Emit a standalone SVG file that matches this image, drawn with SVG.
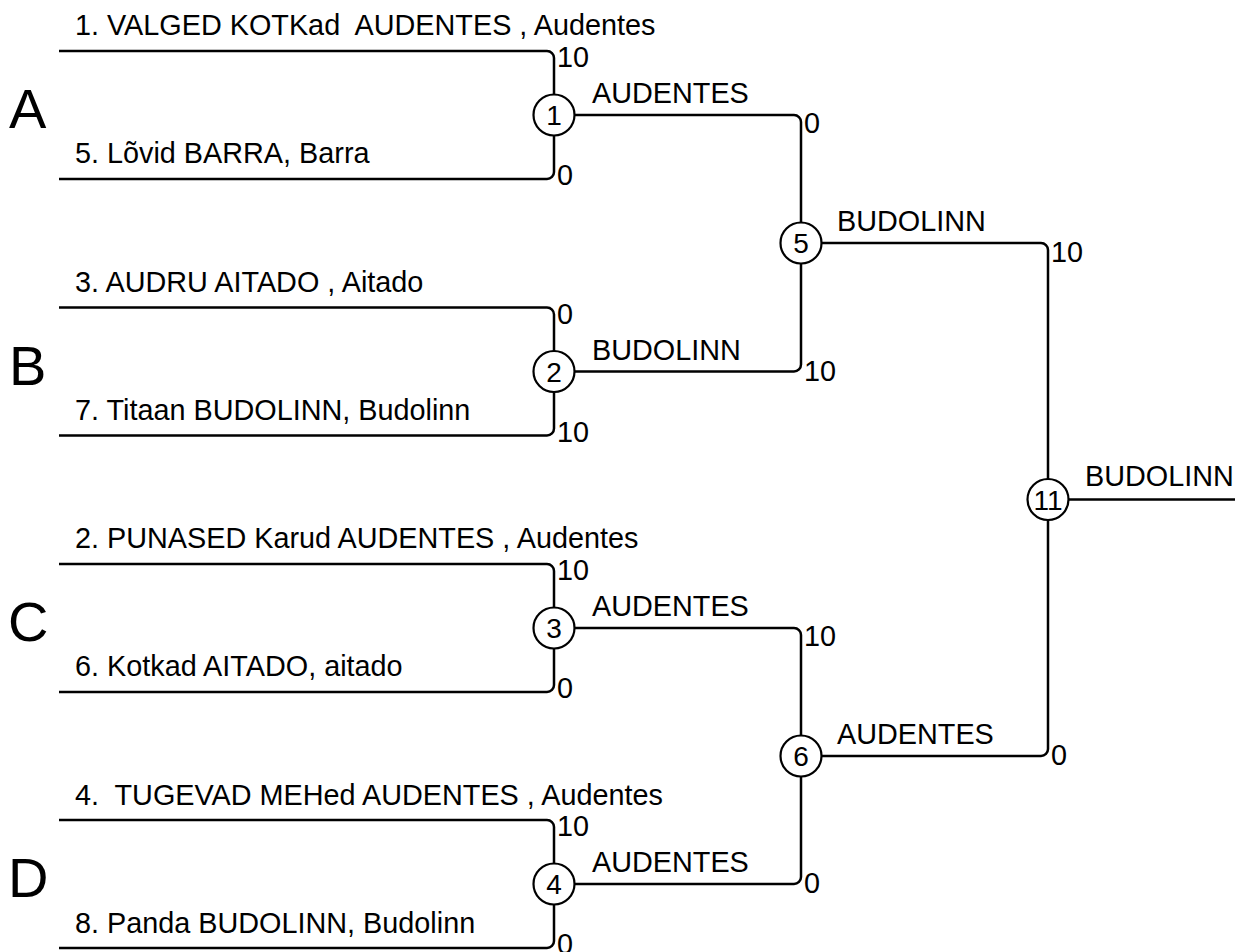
<svg xmlns="http://www.w3.org/2000/svg" width="1235" height="952" viewBox="0 0 1235 952">
<style>
text{font-family:"Liberation Sans",Arial,sans-serif;fill:#000}
.t{font-size:28.8px}
.g{font-size:56px}
.n{font-size:28px;text-anchor:middle}
.c{fill:#fff;stroke:#000;stroke-width:2.2}
.l{fill:none;stroke:#000;stroke-width:2.5}
</style>
<rect width="1235" height="952" fill="#fff"/>
<g id="groups">
<text class="g" x="9" y="128">A</text>
<text class="g" x="9" y="384.5">B</text>
<text class="g" x="8" y="641">C</text>
<text class="g" x="8" y="897">D</text>
</g>
<g id="teams">
<text class="t" x="75" y="35" xml:space="preserve">1. VALGED KOTKad  AUDENTES , Audentes</text>
<text class="t" x="75" y="163">5. Lõvid BARRA, Barra</text>
<text class="t" x="75" y="291.5">3. AUDRU AITADO , Aitado</text>
<text class="t" x="75" y="419.5">7. Titaan BUDOLINN, Budolinn</text>
<text class="t" x="75" y="548">2. PUNASED Karud AUDENTES , Audentes</text>
<text class="t" x="75" y="676">6. Kotkad AITADO, aitado</text>
<text class="t" x="75" y="804.5" xml:space="preserve">4.  TUGEVAD MEHed AUDENTES , Audentes</text>
<text class="t" x="75" y="932.5">8. Panda BUDOLINN, Budolinn</text>
</g>
<g id="connectors">
<path class="l" d="M59,51 H547 A7,7 0 0 1 554,58 V94.5"/>
<path class="l" d="M59,179 H547 A7,7 0 0 0 554,172 V135.5"/>
<path class="l" d="M59,307.5 H547 A7,7 0 0 1 554,314.5 V351"/>
<path class="l" d="M59,435.5 H547 A7,7 0 0 0 554,428.5 V392"/>
<path class="l" d="M59,564 H547 A7,7 0 0 1 554,571 V607.5"/>
<path class="l" d="M59,692 H547 A7,7 0 0 0 554,685 V648.5"/>
<path class="l" d="M59,820 H547 A7,7 0 0 1 554,827 V863.5"/>
<path class="l" d="M59,948 H547 A7,7 0 0 0 554,941 V904.5"/>
<path class="l" d="M574.5,115 H794 A7,7 0 0 1 801,122 V222.5"/>
<path class="l" d="M574.5,371.5 H794 A7,7 0 0 0 801,364.5 V263.5"/>
<path class="l" d="M574.5,628 H794 A7,7 0 0 1 801,635 V735.5"/>
<path class="l" d="M574.5,884 H794 A7,7 0 0 0 801,877 V776.5"/>
<path class="l" d="M821.5,243 H1041 A7,7 0 0 1 1048,250 V479"/>
<path class="l" d="M821.5,756 H1041 A7,7 0 0 0 1048,749 V520"/>
<path class="l" d="M1068.5,499.5 H1235"/>
</g>
<g id="scores">
<text class="t" x="557" y="67">10</text>
<text class="t" x="557" y="185">0</text>
<text class="t" x="557" y="323.5">0</text>
<text class="t" x="557" y="441.5">10</text>
<text class="t" x="557" y="580">10</text>
<text class="t" x="557" y="698">0</text>
<text class="t" x="557" y="836">10</text>
<text class="t" x="557" y="954">0</text>
<text class="t" x="804" y="133">0</text>
<text class="t" x="804" y="380.5">10</text>
<text class="t" x="804" y="646">10</text>
<text class="t" x="804" y="893">0</text>
<text class="t" x="1051" y="262">10</text>
<text class="t" x="1051" y="765">0</text>
</g>
<g id="winners">
<text class="t" x="592" y="103">AUDENTES</text>
<text class="t" x="592" y="359.5">BUDOLINN</text>
<text class="t" x="592" y="616">AUDENTES</text>
<text class="t" x="592" y="872">AUDENTES</text>
<text class="t" x="837" y="231">BUDOLINN</text>
<text class="t" x="837" y="744">AUDENTES</text>
<text class="t" x="1085" y="485.5">BUDOLINN</text>
</g>
<g id="match1"><circle class="c" cx="554" cy="115" r="20.5"/><text class="n" x="554" y="125">1</text></g>
<g id="match2"><circle class="c" cx="554" cy="371.5" r="20.5"/><text class="n" x="554" y="381.5">2</text></g>
<g id="match3"><circle class="c" cx="554" cy="628" r="20.5"/><text class="n" x="554" y="638">3</text></g>
<g id="match4"><circle class="c" cx="554" cy="884" r="20.5"/><text class="n" x="554" y="894">4</text></g>
<g id="match5"><circle class="c" cx="801" cy="243" r="20.5"/><text class="n" x="801" y="253">5</text></g>
<g id="match6"><circle class="c" cx="801" cy="756" r="20.5"/><text class="n" x="801" y="766">6</text></g>
<g id="match11"><circle class="c" cx="1048" cy="499.5" r="20.5"/><text class="n" x="1048" y="509.5">11</text></g>
</svg>
